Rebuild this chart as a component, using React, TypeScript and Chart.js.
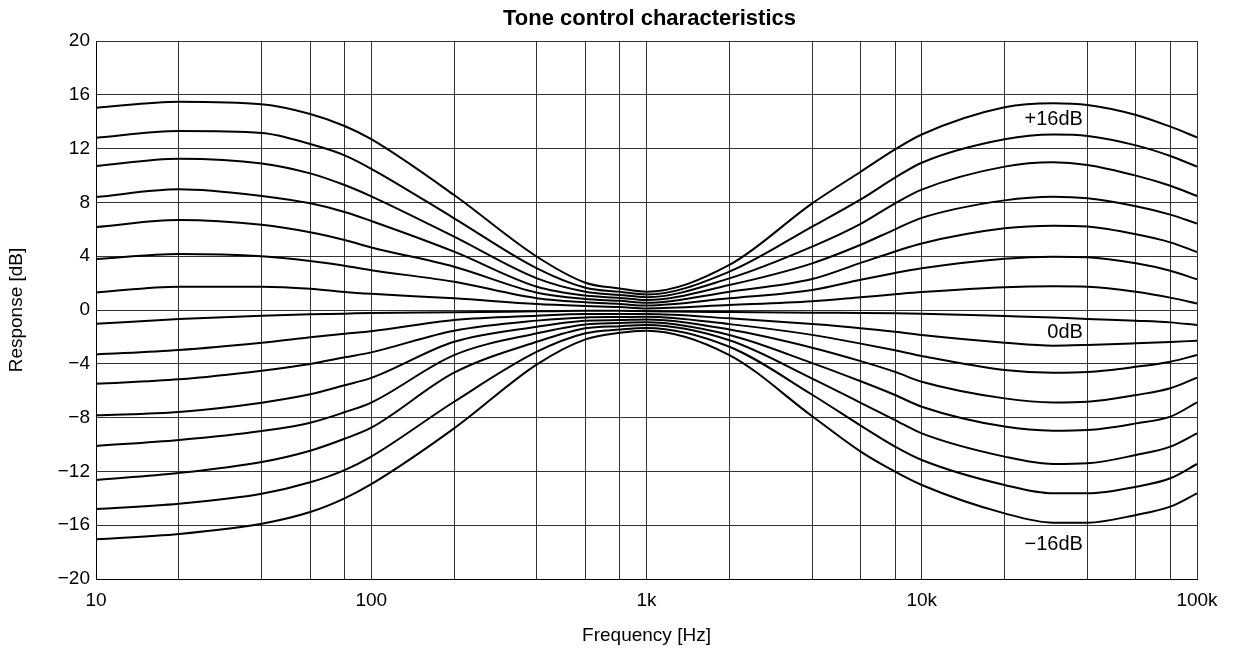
import { useEffect, useRef } from 'react';
import { Chart, registerables } from 'chart.js';

Chart.register(...registerables);

const frequencies = [10, 20, 40, 60, 80, 100, 200, 400, 600, 800, 1000, 2000, 4000, 6000, 8000, 10000, 20000, 30000, 40000, 60000, 80000, 100000];

const curve1 = [15.04, 15.49, 15.29, 14.57, 13.68, 12.7, 8.55, 3.96, 2.03, 1.6, 1.36, 3.35, 7.93, 10.28, 11.94, 13.05, 15.07, 15.37, 15.24, 14.5, 13.63, 12.84];
const curve2 = [12.81, 13.3, 13.16, 12.34, 11.5, 10.5, 6.82, 3.1, 1.66, 1.35, 1.15, 2.85, 6.2, 8.22, 9.84, 10.95, 12.69, 13.04, 12.94, 12.24, 11.45, 10.66];
const curve3 = [10.7, 11.25, 10.9, 10.16, 9.29, 8.45, 5.45, 2.35, 1.36, 1.12, 0.95, 2.35, 4.71, 6.4, 7.93, 8.95, 10.66, 10.98, 10.78, 9.99, 9.24, 8.48];
const curve4 = [8.4, 8.97, 8.48, 7.93, 7.29, 6.62, 4.34, 1.73, 1.07, 0.9, 0.74, 1.86, 3.47, 4.85, 6.0, 6.85, 8.15, 8.42, 8.3, 7.71, 7.09, 6.42];
const curve5 = [6.17, 6.69, 6.34, 5.78, 5.2, 4.65, 3.22, 1.29, 0.82, 0.68, 0.53, 1.36, 2.3, 3.5, 4.35, 4.95, 6.07, 6.27, 6.2, 5.63, 5.03, 4.31];
const curve6 = [3.79, 4.16, 3.99, 3.64, 3.29, 2.96, 2.1, 0.87, 0.57, 0.45, 0.33, 0.87, 1.49, 2.25, 2.75, 3.1, 3.81, 3.96, 3.92, 3.47, 2.92, 2.28];
const curve7 = [1.31, 1.73, 1.73, 1.58, 1.34, 1.2, 0.87, 0.45, 0.3, 0.22, 0.12, 0.37, 0.65, 0.95, 1.17, 1.33, 1.69, 1.76, 1.73, 1.36, 0.92, 0.49];
const curve8 = [-1.03, -0.67, -0.42, -0.32, -0.27, -0.22, -0.17, -0.1, -0.06, -0.06, -0.09, -0.15, -0.2, -0.22, -0.24, -0.27, -0.45, -0.56, -0.67, -0.8, -0.92, -1.12];
const curve9 = [-3.3, -2.97, -2.43, -2.03, -1.76, -1.58, -0.74, -0.42, -0.3, -0.3, -0.3, -0.62, -1.05, -1.35, -1.62, -1.86, -2.43, -2.65, -2.6, -2.48, -2.38, -2.28];
const curve10 = [-5.48, -5.15, -4.51, -4.01, -3.52, -3.15, -1.54, -0.79, -0.55, -0.52, -0.5, -1.05, -1.85, -2.5, -3.0, -3.42, -4.46, -4.66, -4.61, -4.22, -3.84, -3.35];
const curve11 = [-7.83, -7.58, -6.89, -6.27, -5.6, -5.05, -2.36, -1.24, -0.8, -0.75, -0.71, -1.45, -2.8, -3.8, -4.6, -5.33, -6.57, -6.87, -6.82, -6.32, -5.82, -5.03];
const curve12 = [-10.11, -9.67, -9.0, -8.38, -7.6, -6.88, -3.35, -1.73, -1.07, -0.97, -0.92, -1.86, -3.95, -5.3, -6.32, -7.19, -8.67, -8.97, -8.92, -8.43, -7.93, -6.87];
const curve13 = [-12.64, -12.12, -11.3, -10.46, -9.57, -8.75, -4.66, -2.36, -1.36, -1.2, -1.12, -2.25, -5.1, -6.9, -8.18, -9.17, -10.9, -11.45, -11.4, -10.78, -10.16, -9.17];
const curve14 = [-14.8, -14.4, -13.66, -12.81, -11.9, -10.9, -6.82, -3.1, -1.73, -1.45, -1.33, -2.73, -6.3, -8.6, -10.16, -11.15, -13.01, -13.63, -13.63, -13.14, -12.51, -11.45];
const curve15 = [-17.05, -16.65, -15.89, -15.02, -14.0, -12.95, -8.8, -4.04, -2.18, -1.69, -1.54, -3.35, -7.9, -10.53, -12.02, -13.01, -15.12, -15.81, -15.81, -15.24, -14.62, -13.63];

const curves = [curve1, curve2, curve3, curve4, curve5, curve6, curve7, curve8, curve9, curve10, curve11, curve12, curve13, curve14, curve15];

const gridFrequencies = [10, 20, 40, 60, 80, 100, 200, 400, 600, 800, 1000, 2000, 4000, 6000, 8000, 10000, 20000, 40000, 60000, 80000, 100000];
const labeledFrequencies = [10, 100, 1000, 10000, 100000];
const frequencyTickLabels = ['10', '100', '1k', '10k', '100k'];

const curveLabelTexts = ['+16dB', '0dB', '\u221216dB'];
const curveLabelFrequencies = [38500, 38500, 38500];
const curveLabelValues = [14.15, -1.7, -17.45];

const chartTitle = 'Tone control characteristics';

const FONT = '"Liberation Sans", Arial, Helvetica, sans-serif';

const overlayPlugin = {
  id: 'overlayText',
  afterDatasetsDraw(chart: any) {
    const { ctx, scales, chartArea } = chart;
    ctx.save();
    ctx.fillStyle = '#000';
    ctx.font = `20px ${FONT}`;
    ctx.textAlign = 'right';
    ctx.textBaseline = 'middle';
    curveLabelTexts.forEach((t, i) => {
      const x = scales.x.getPixelForValue(curveLabelFrequencies[i]);
      const y = scales.y.getPixelForValue(curveLabelValues[i]);
      ctx.fillText(t, x, y);
    });
    ctx.font = `bold 22px ${FONT}`;
    ctx.textAlign = 'center';
    ctx.fillText(chartTitle, (chartArea.left + chartArea.right) / 2 + 3, 19);
    ctx.restore();
  },
};

export default function App() {
  const ref = useRef<HTMLCanvasElement | null>(null);

  useEffect(() => {
    if (!ref.current) return;
    Chart.defaults.font.family = FONT;
    Chart.defaults.color = '#000';
    const chart = new Chart(ref.current, {
      type: 'line',
      data: {
        datasets: curves.map((c, i) => ({
          label: `curve ${i + 1}`,
          data: frequencies.map((f, j) => ({ x: f, y: c[j] })),
          borderColor: '#000',
          borderWidth: 2,
          pointRadius: 0,
          fill: false,
          cubicInterpolationMode: 'monotone' as const,
        })),
      },
      options: {
        animation: false,
        responsive: true,
        maintainAspectRatio: false,
        layout: { padding: { left: 0, right: 36, top: 41, bottom: 0 } },
        plugins: {
          legend: { display: false },
          tooltip: { enabled: false },
          title: { display: false },
        },
        scales: {
          x: {
            type: 'logarithmic',
            min: 10,
            max: 100000,
            afterBuildTicks: (scale: any) => {
              scale.ticks = gridFrequencies.map((v) => ({ value: v }));
            },
            afterFit: (scale: any) => {
              scale.height = 71;
            },
            ticks: {
              autoSkip: false,
              maxRotation: 0,
              padding: 10,
              font: { size: 19, family: FONT },
              color: '#000',
              callback: (v: any) => {
                const idx = labeledFrequencies.indexOf(Number(v));
                return idx >= 0 ? frequencyTickLabels[idx] : '';
              },
            },
            grid: { color: 'rgba(0,0,0,0.8)', lineWidth: 1, drawTicks: false },
            border: { color: '#000', width: 1 },
            title: {
              display: true,
              text: 'Frequency [Hz]',
              color: '#000',
              font: { size: 19, family: FONT },
              padding: { top: 0, bottom: 3 },
            },
          },
          y: {
            type: 'linear',
            min: -20,
            max: 20,
            afterFit: (scale: any) => {
              scale.width = 96;
            },
            ticks: {
              stepSize: 4,
              padding: 6,
              font: { size: 19, family: FONT },
              color: '#000',
              callback: (v: any) => {
                const n = Number(v);
                return n < 0 ? '\u2212' + Math.abs(n) : String(n);
              },
            },
            grid: { color: 'rgba(0,0,0,0.8)', lineWidth: 1, drawTicks: false },
            border: { color: '#000', width: 1 },
            title: {
              display: true,
              text: 'Response [dB]',
              color: '#000',
              font: { size: 19, family: FONT },
              padding: { top: 5, bottom: 0 },
            },
          },
        },
      },
      plugins: [overlayPlugin],
    } as any);
    return () => chart.destroy();
  }, []);

  return (
    <div style={{ position: 'fixed', left: 0, top: 0, width: 1233, height: 650, background: '#fff' }}>
      <canvas ref={ref} />
    </div>
  );
}
